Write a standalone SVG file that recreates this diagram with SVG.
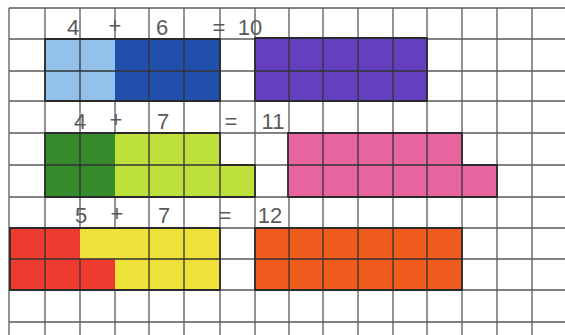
<svg xmlns="http://www.w3.org/2000/svg" width="565" height="335" viewBox="0 0 565 335">
<style>
.g{stroke:#5a5a5a;stroke-width:1.3;fill:none}
.i{stroke:#333333;stroke-width:1.3;fill:none}
.o{stroke:#2a2a2a;stroke-width:1.8;fill:none;stroke-linejoin:round}
.t{font-family:"Liberation Sans",Arial,sans-serif;font-size:22px;fill:#5a5a5a;text-anchor:middle}
</style>
<rect width="565" height="335" fill="#ffffff"/>
<g id="grid" class="g">
<path d="M9 8V335M45 8V335M80 8V335M115 8V335M149 8V335M184 8V335M220 8V335M255 8V335M289 8V335M323 8V335M358 8V335M393 8V335M427 8V335M462 8V335M497 8V335M532 8V335"/>
<path d="M9 8H565M9 39H565M9 71H565M9 101H565M9 133H565M9 165H565M9 197H565M9 228H565M9 259H565M9 290H565M9 322H565"/>
</g>
<g id="row1">
<rect x="45" y="39" width="70" height="62" fill="#92c2ea"/>
<rect x="115" y="39" width="105" height="62" fill="#2050ac"/>
<rect x="255" y="38" width="172" height="63" fill="#6440c0"/>
<path class="i" d="M80 39V101M149 39V101M184 39V101M45 71H220M289 38V101M323 38V101M358 38V101M393 38V101M255 71H427"/>
<rect class="o" x="45" y="39" width="175" height="62"/>
<rect class="o" x="255" y="38" width="172" height="63"/>
<text class="t" x="73" y="35">4</text>
<text class="t" x="115" y="33">+</text>
<text class="t" x="162" y="35">6</text>
<text class="t" x="219" y="35">=</text>
<text class="t" x="250" y="35">10</text>
</g>
<g id="row2">
<rect x="45" y="133" width="70" height="64" fill="#358b2c"/>
<path d="M115 133H220V165H255V197H115Z" fill="#bde03a"/>
<path d="M288 133H462V165H497V197H288Z" fill="#e8649e"/>
<path class="i" d="M80 133V197M149 133V197M184 133V197M220 165V197M45 165H220M323 133V197M358 133V197M393 133V197M427 133V197M462 165V197M288 165H462"/>
<path class="o" d="M45 133H220V165H255V197H45Z"/>
<path class="o" d="M288 133H462V165H497V197H288Z"/>
<text class="t" x="80" y="129">4</text>
<text class="t" x="116" y="127">+</text>
<text class="t" x="163" y="129">7</text>
<text class="t" x="231" y="129">=</text>
<text class="t" x="273" y="129">11</text>
</g>
<g id="row3">
<path d="M10 228H80V259H115V290H10Z" fill="#ed3b30"/>
<path d="M80 228H220V290H115V259H80Z" fill="#eee23a"/>
<rect x="255" y="228" width="207" height="62" fill="#f05a1c"/>
<path class="i" d="M45 228V290M80 259V290M149 228V290M184 228V290M10 259H220M289 228V290M323 228V290M358 228V290M393 228V290M427 228V290M255 259H462"/>
<rect class="o" x="10" y="228" width="210" height="62"/>
<rect class="o" x="255" y="228" width="207" height="62"/>
<text class="t" x="81" y="223">5</text>
<text class="t" x="117" y="221">+</text>
<text class="t" x="164" y="223">7</text>
<text class="t" x="225" y="223">=</text>
<text class="t" x="270" y="223">12</text>
</g>
</svg>
